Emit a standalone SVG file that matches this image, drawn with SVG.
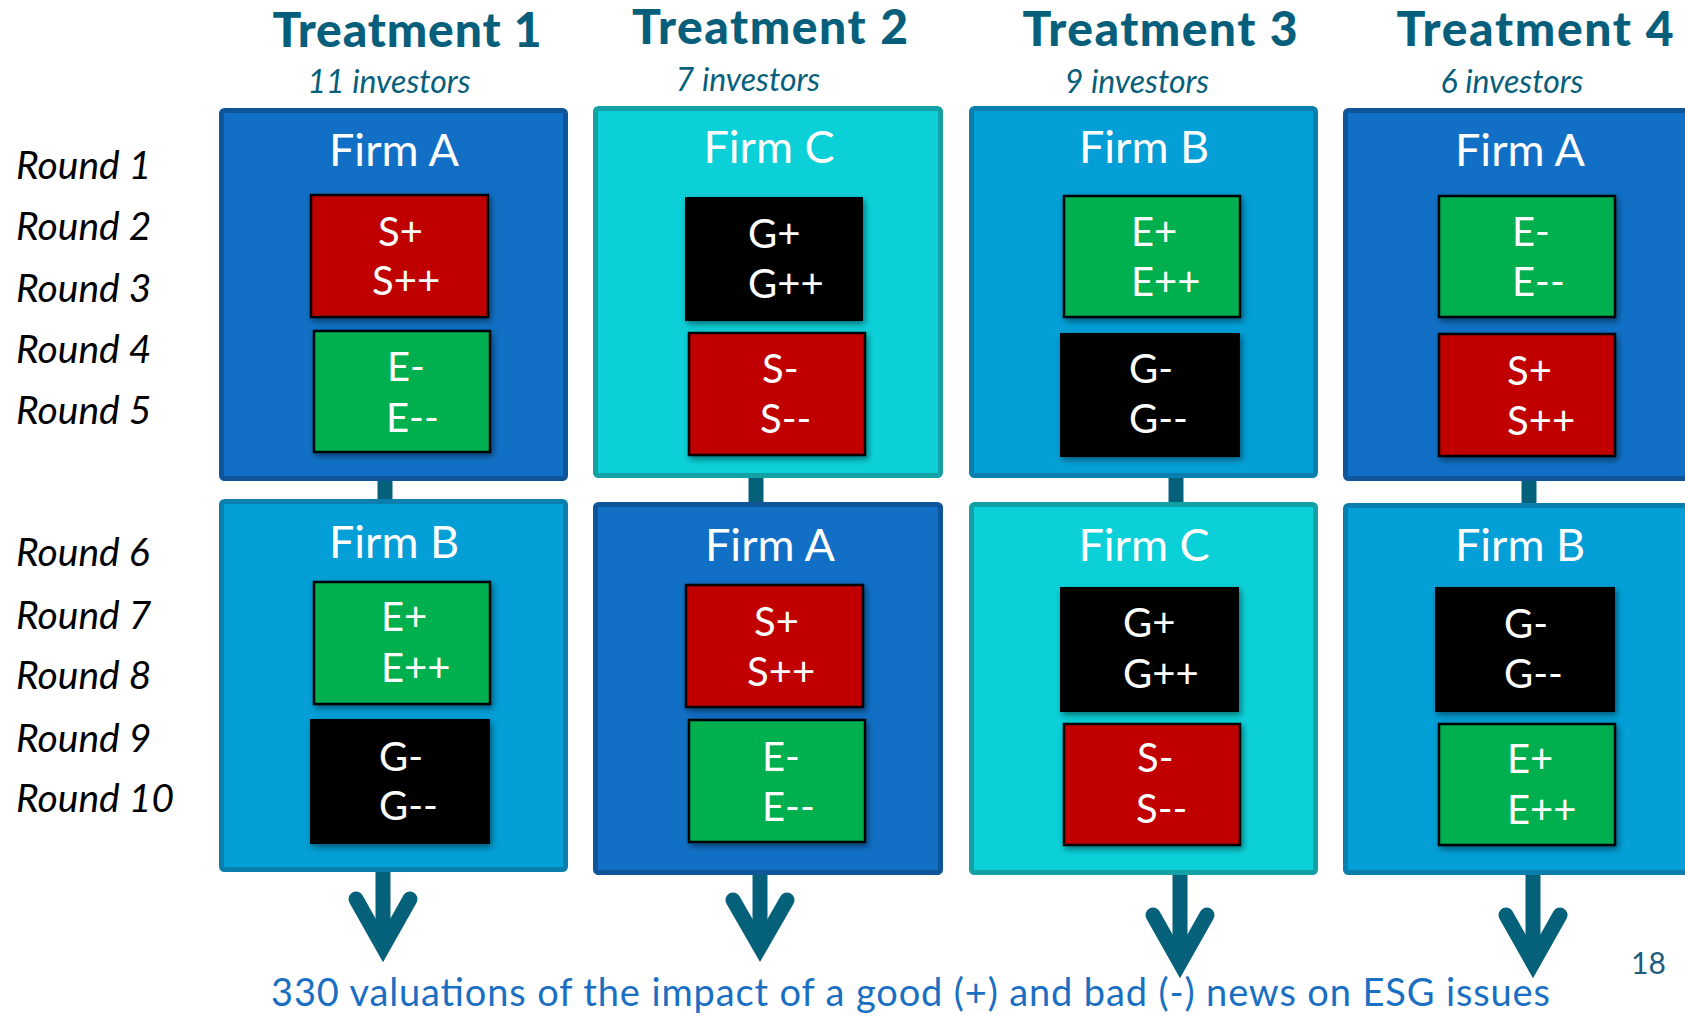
<svg xmlns="http://www.w3.org/2000/svg" width="1685" height="1016" viewBox="0 0 1685 1016">
<defs>
<style>
.title{font-family:Lato,"Open Sans",sans-serif;font-weight:900;font-size:48px;fill:#075f7b;text-anchor:middle}
.inv{font-family:Lato,"Open Sans",sans-serif;font-style:italic;font-size:32px;fill:#075f7b;text-anchor:middle}
.round{font-family:Lato,"Open Sans",sans-serif;font-style:italic;font-size:39px;fill:#000}
.firm{font-family:Lato,"Open Sans",sans-serif;font-size:45px;fill:#fff;text-anchor:middle}
.code{font-family:Lato,"Open Sans",sans-serif;font-size:40px;fill:#fff}
.foot{font-family:Lato,"Open Sans",sans-serif;font-size:38px;fill:#1b6fc2}
.pg{font-family:Lato,"Open Sans",sans-serif;font-size:30px;fill:#1d5c7c}
.dark{fill:#1170c5;stroke:#0e559a;stroke-width:5}
.mid{fill:#039fd6;stroke:#0a7fae;stroke-width:5}
.cyan{fill:#0cd0d8;stroke:#13a1a5;stroke-width:5}
.red{fill:#c00000;stroke:#000;stroke-width:2.5}
.green{fill:#00b050;stroke:#000;stroke-width:2.5}
.black{fill:#000;stroke:#000;stroke-width:2}
.stub{stroke:#05607a;stroke-width:15;fill:none}
.arrow{stroke:#05607a;stroke-width:15;fill:none;stroke-linecap:round;stroke-linejoin:miter;stroke-miterlimit:6}
</style>
<filter id="sh" x="-10%" y="-10%" width="130%" height="130%">
<feDropShadow dx="2" dy="3" stdDeviation="3" flood-color="#000" flood-opacity="0.45"/>
</filter>
</defs>
<rect x="0" y="0" width="1685" height="1016" fill="#fff"/>

<g id="headers">
<text class="title" x="407" y="47" textLength="269">Treatment 1</text>
<text class="title" x="770" y="44" textLength="276">Treatment 2</text>
<text class="title" x="1160" y="46" textLength="275">Treatment 3</text>
<text class="title" x="1535" y="46" textLength="277">Treatment 4</text>
<text class="inv" x="389" y="93">11 investors</text>
<text class="inv" x="748" y="91">7 investors</text>
<text class="inv" x="1137" y="93">9 investors</text>
<text class="inv" x="1512" y="93">6 investors</text>
</g>

<g id="rounds">
<text class="round" x="16" y="179">Round 1</text>
<text class="round" x="16" y="240">Round 2</text>
<text class="round" x="16" y="302">Round 3</text>
<text class="round" x="16" y="363">Round 4</text>
<text class="round" x="16" y="424">Round 5</text>
<text class="round" x="16" y="566">Round 6</text>
<text class="round" x="16" y="629">Round 7</text>
<text class="round" x="16" y="689">Round 8</text>
<text class="round" x="16" y="752">Round 9</text>
<text class="round" x="16" y="812">Round 10</text>
</g>

<g id="connectors">
<line class="stub" x1="385" y1="478" x2="385" y2="502"/>
<line class="stub" x1="756" y1="475" x2="756" y2="505"/>
<line class="stub" x1="1176" y1="475" x2="1176" y2="505"/>
<line class="stub" x1="1529" y1="478" x2="1529" y2="506"/>
<line class="stub" x1="383" y1="870" x2="383" y2="948"/>
<polyline class="arrow" points="356,899 383,947 410,899"/>
<line class="stub" x1="760" y1="873" x2="760" y2="948"/>
<polyline class="arrow" points="733,900 760,947 787,900"/>
<line class="stub" x1="1180" y1="873" x2="1180" y2="963"/>
<polyline class="arrow" points="1153,915 1180,963 1207,915"/>
<line class="stub" x1="1533" y1="873" x2="1533" y2="963"/>
<polyline class="arrow" points="1506,915 1533,963 1560,915"/>
</g>

<g id="t1-firmA">
<rect class="dark" x="221.5" y="110.5" width="344" height="368" rx="3"/>
<text class="firm" x="394" y="166">Firm A</text>
<rect class="red" x="311" y="195" width="177" height="122" filter="url(#sh)"/>
<text class="code" x="378" y="246">S+</text>
<text class="code" x="372" y="295">S++</text>
<rect class="green" x="314" y="331" width="176" height="121" filter="url(#sh)"/>
<text class="code" x="387" y="381">E-</text>
<text class="code" x="386" y="432">E--</text>
</g>
<g id="t1-firmB">
<rect class="mid" x="221.5" y="501.5" width="344" height="368" rx="3"/>
<text class="firm" x="394" y="558">Firm B</text>
<rect class="green" x="314" y="582" width="176" height="122" filter="url(#sh)"/>
<text class="code" x="381" y="631">E+</text>
<text class="code" x="381" y="682">E++</text>
<rect class="black" x="311" y="720" width="178" height="123" filter="url(#sh)"/>
<text class="code" x="379" y="771">G-</text>
<text class="code" x="379" y="820">G--</text>
</g>

<g id="t2-firmC">
<rect class="cyan" x="595.5" y="108.5" width="345" height="367" rx="3"/>
<text class="firm" x="769" y="163">Firm C</text>
<rect class="black" x="686" y="198" width="176" height="122" filter="url(#sh)"/>
<text class="code" x="748" y="248">G+</text>
<text class="code" x="748" y="298">G++</text>
<rect class="red" x="689" y="333" width="176" height="122" filter="url(#sh)"/>
<text class="code" x="762" y="383">S-</text>
<text class="code" x="760" y="433">S--</text>
</g>
<g id="t2-firmA">
<rect class="dark" x="595.5" y="504.5" width="345" height="368" rx="3"/>
<text class="firm" x="770" y="561">Firm A</text>
<rect class="red" x="686" y="585" width="177" height="122" filter="url(#sh)"/>
<text class="code" x="754" y="636">S+</text>
<text class="code" x="747" y="686">S++</text>
<rect class="green" x="689" y="720" width="176" height="122" filter="url(#sh)"/>
<text class="code" x="762" y="771">E-</text>
<text class="code" x="762" y="821">E--</text>
</g>

<g id="t3-firmB">
<rect class="mid" x="971.5" y="108.5" width="344" height="367" rx="3"/>
<text class="firm" x="1144" y="163">Firm B</text>
<rect class="green" x="1064" y="196" width="176" height="121" filter="url(#sh)"/>
<text class="code" x="1131" y="246">E+</text>
<text class="code" x="1131" y="296">E++</text>
<rect class="black" x="1061" y="334" width="178" height="122" filter="url(#sh)"/>
<text class="code" x="1129" y="383">G-</text>
<text class="code" x="1129" y="433">G--</text>
</g>
<g id="t3-firmC">
<rect class="cyan" x="971.5" y="504.5" width="344" height="368" rx="3"/>
<text class="firm" x="1144" y="561">Firm C</text>
<rect class="black" x="1061" y="588" width="177" height="123" filter="url(#sh)"/>
<text class="code" x="1123" y="637">G+</text>
<text class="code" x="1123" y="688">G++</text>
<rect class="red" x="1064" y="724" width="176" height="121" filter="url(#sh)"/>
<text class="code" x="1137" y="772">S-</text>
<text class="code" x="1136" y="823">S--</text>
</g>

<g id="t4-firmA">
<rect class="dark" x="1345.5" y="110.5" width="350" height="368" rx="3"/>
<text class="firm" x="1520" y="166">Firm A</text>
<rect class="green" x="1439" y="196" width="176" height="121" filter="url(#sh)"/>
<text class="code" x="1512" y="246">E-</text>
<text class="code" x="1512" y="296">E--</text>
<rect class="red" x="1439" y="334" width="176" height="122" filter="url(#sh)"/>
<text class="code" x="1507" y="385">S+</text>
<text class="code" x="1507" y="435">S++</text>
</g>
<g id="t4-firmB">
<rect class="mid" x="1345.5" y="505.5" width="350" height="367" rx="3"/>
<text class="firm" x="1520" y="561">Firm B</text>
<rect class="black" x="1436" y="588" width="178" height="123" filter="url(#sh)"/>
<text class="code" x="1504" y="638">G-</text>
<text class="code" x="1504" y="688">G--</text>
<rect class="green" x="1439" y="724" width="176" height="121" filter="url(#sh)"/>
<text class="code" x="1507" y="773">E+</text>
<text class="code" x="1507" y="824">E++</text>
</g>

<g id="footer">
<text class="foot" x="271" y="1006" textLength="1279">330 valuations of the impact of a good (+) and bad (-) news on ESG issues</text>
<text class="pg" x="1631" y="974">18</text>
</g>
</svg>
